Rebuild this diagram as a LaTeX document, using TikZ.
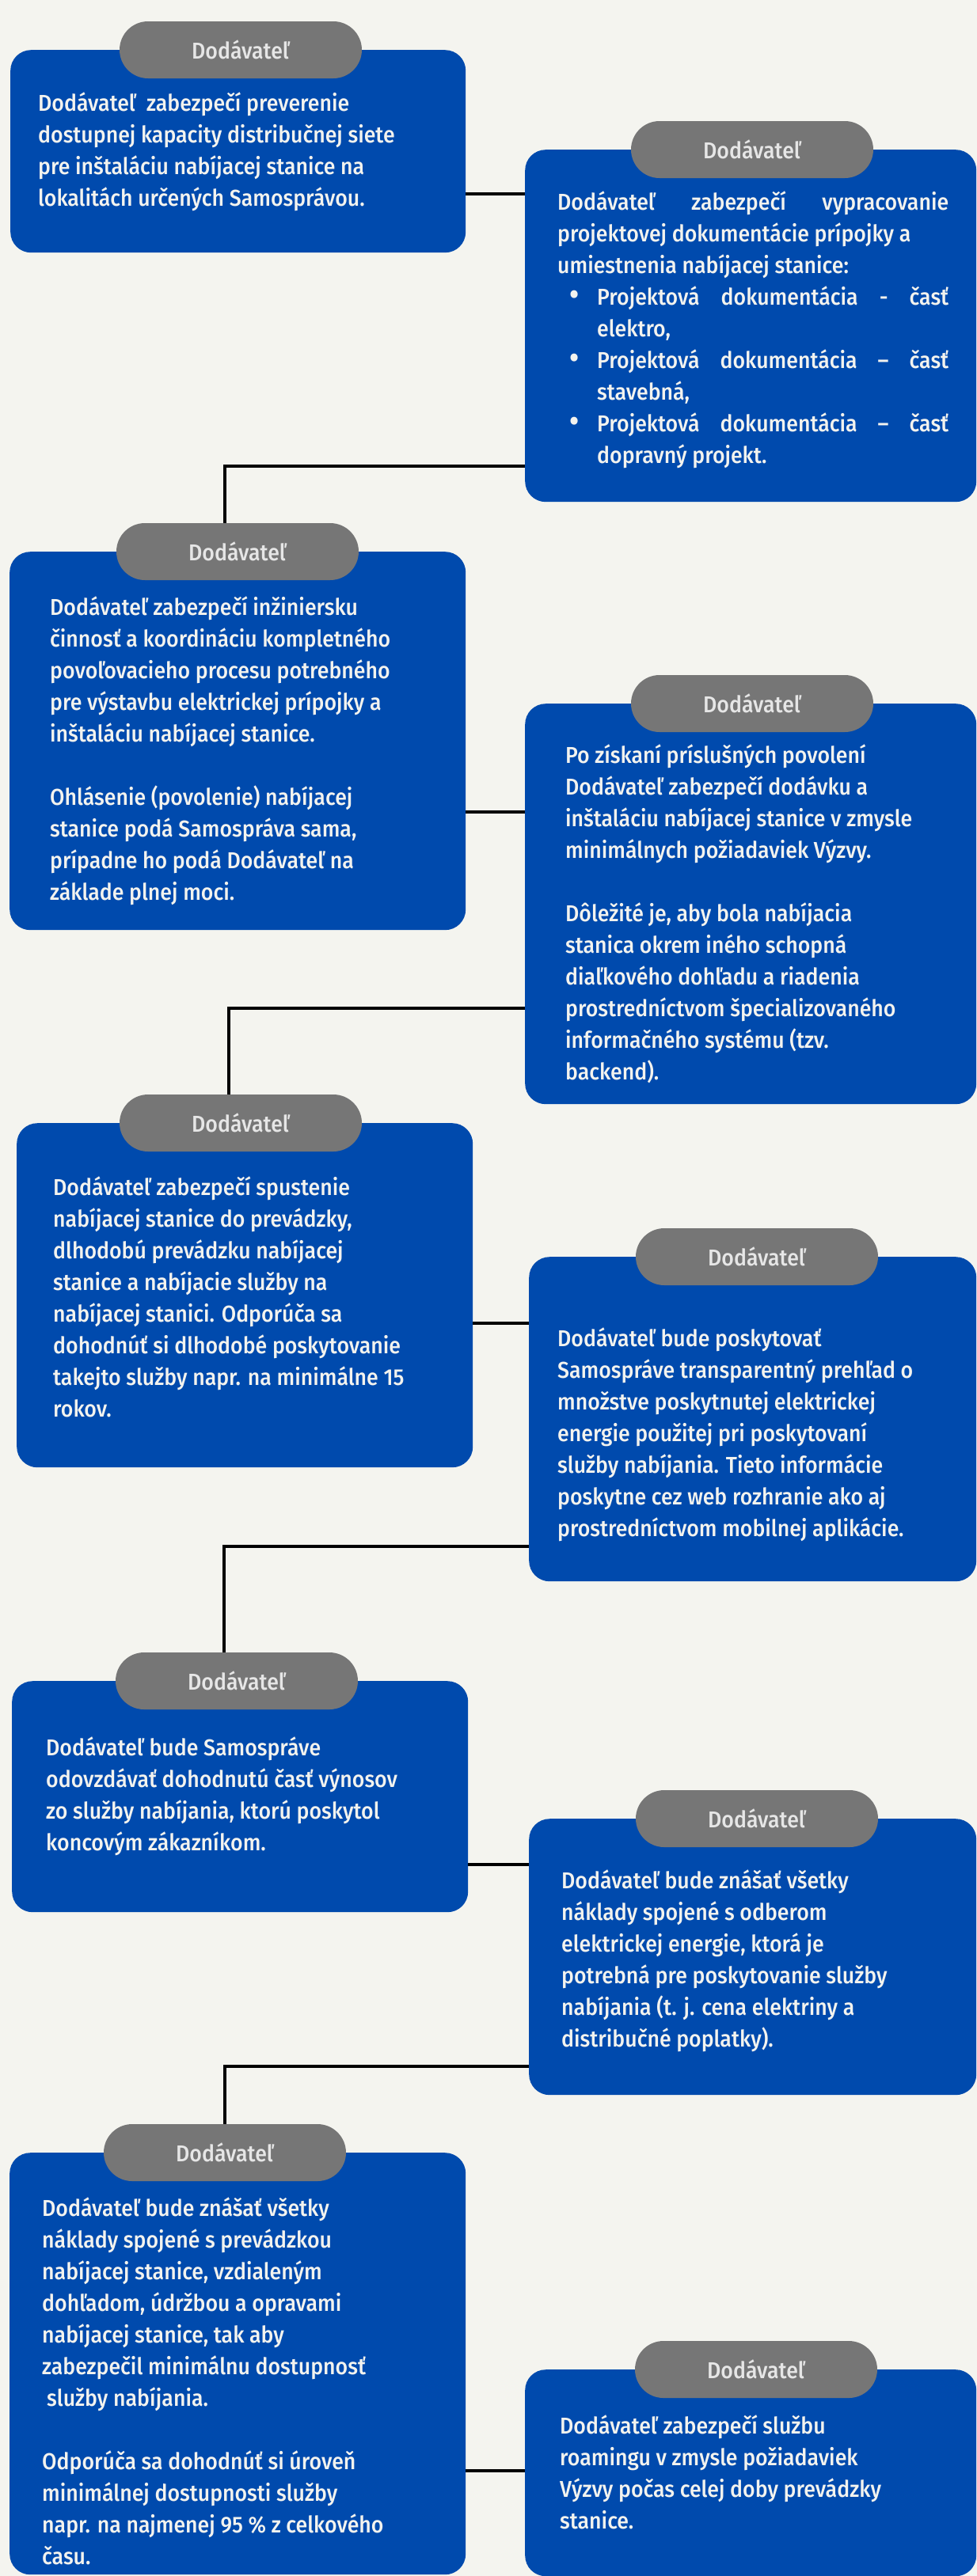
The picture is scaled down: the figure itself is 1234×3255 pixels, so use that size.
\documentclass[tikz,border=0pt]{standalone}
\usepackage{fontspec}
\setmainfont{Fira Sans}[UprightFont=* Medium, FakeStretch=0.92]
\usetikzlibrary{positioning}

\definecolor{paper}{HTML}{F4F4EF}
\definecolor{cardblue}{HTML}{004AAD}
\definecolor{taggray}{HTML}{767676}
\definecolor{tagtext}{HTML}{E6E6E6}
\definecolor{cardtext}{HTML}{F3F3EF}

\newcommand{\cardfont}{\fontsize{29}{40}\selectfont}
\newcommand{\spread}[2]{\makebox[#1][s]{#2}}
\newcommand{\bitem}[1]{\makebox[50pt][l]{\hspace*{15pt}\scalebox{1.35}{\textbullet}}\spread{444pt}{#1}}
\newcommand{\firstrow}{\rule{0pt}{30pt}}

\begin{document}
\begin{tikzpicture}[x=1pt,y=-1pt,
    card/.style={draw=none, fill=cardblue, rounded corners=26pt, inner sep=0pt, anchor=north west},
    tag/.style={fill=taggray, rounded corners=36pt, minimum width=306pt, minimum height=72pt,
      inner sep=0pt, text=tagtext, font=\cardfont},
    body/.style={text=cardtext, font=\cardfont, align=left, inner sep=0pt, anchor=north west,
      execute at begin node=\firstrow},
    link/.style={draw=black, line width=3.5pt}]

  \fill[paper] (0,0) rectangle (1234,3255);
  \useasboundingbox (0,0) rectangle (1234,3255);

  % Cards
  \node[card, minimum width=575pt, minimum height=256pt] (c1) at (13,63) {};
  \node[card, minimum width=570pt, minimum height=445pt] (c2) at (663,189) {};
  \node[card, minimum width=576pt, minimum height=478pt] (c3) at (12,697) {};
  \node[card, minimum width=570pt, minimum height=506pt] (c4) at (663,889) {};
  \node[card, minimum width=576pt, minimum height=435pt] (c5) at (21,1419) {};
  \node[card, minimum width=565pt, minimum height=410pt] (c6) at (668,1588) {};
  \node[card, minimum width=576pt, minimum height=292pt] (c7) at (15,2124) {};
  \node[card, minimum width=565pt, minimum height=349pt] (c8) at (668,2298) {};
  \node[card, minimum width=576pt, minimum height=533pt] (c9) at (12,2720) {};
  \node[card, minimum width=570pt, minimum height=261pt] (c10) at (663,2994) {};

  % Tags
  \node[tag] (t1) at (304,63) {Dodávateľ};
  \node[tag] (t2) at (950,189) {Dodávateľ};
  \node[tag] (t3) at (300,697) {Dodávateľ};
  \node[tag] (t4) at (950,889) {Dodávateľ};
  \node[tag] (t5) at (304,1419) {Dodávateľ};
  \node[tag] (t6) at (956,1588) {Dodávateľ};
  \node[tag] (t7) at (299,2124) {Dodávateľ};
  \node[tag] (t8) at (956,2298) {Dodávateľ};
  \node[tag] (t9) at (284,2720) {Dodávateľ};
  \node[tag] (t10) at (955,2994) {Dodávateľ};

  % Texts
  \node[body] (x1) at (48,117) {Dodávateľ\ \ zabezpečí preverenie\\
    dostupnej kapacity distribučnej siete\\
    pre inštaláciu nabíjacej stanice na\\
    lokalitách určených Samosprávou.};
  \node[body] (x2) at (704,242) {\spread{494pt}{Dodávateľ zabezpečí vypracovanie}\\
    projektovej dokumentácie prípojky a\\
    umiestnenia nabíjacej stanice:\\
    \bitem{Projektová dokumentácia - časť}\\
    \hspace*{50pt}elektro,\\
    \bitem{Projektová dokumentácia – časť}\\
    \hspace*{50pt}stavebná,\\
    \bitem{Projektová dokumentácia – časť}\\
    \hspace*{50pt}dopravný projekt.};
  \node[body] (x3) at (63,754) {Dodávateľ zabezpečí inžiniersku\\
    činnosť a koordináciu kompletného\\
    povoľovacieho procesu potrebného\\
    pre výstavbu elektrickej prípojky a\\
    inštaláciu nabíjacej stanice.\\[40pt]
    Ohlásenie (povolenie) nabíjacej\\
    stanice podá Samospráva sama,\\
    prípadne ho podá Dodávateľ na\\
    základe plnej moci.};
  \node[body] (x4) at (714,941) {Po získaní príslušných povolení\\
    Dodávateľ zabezpečí dodávku a\\
    inštaláciu nabíjacej stanice v zmysle\\
    minimálnych požiadaviek Výzvy.\\[40pt]
    Dôležité je, aby bola nabíjacia\\
    stanica okrem iného schopná\\
    diaľkového dohľadu a riadenia\\
    prostredníctvom špecializovaného\\
    informačného systému (tzv.\\
    backend).};
  \node[body] (x5) at (67,1486) {Dodávateľ zabezpečí spustenie\\
    nabíjacej stanice do prevádzky,\\
    dlhodobú prevádzku nabíjacej\\
    stanice a nabíjacie služby na\\
    nabíjacej stanici. Odporúča sa\\
    dohodnúť si dlhodobé poskytovanie\\
    takejto služby napr. na minimálne 15\\
    rokov.};
  \node[body] (x6) at (704,1677) {Dodávateľ bude poskytovať\\
    Samospráve transparentný prehľad o\\
    množstve poskytnutej elektrickej\\
    energie použitej pri poskytovaní\\
    služby nabíjania. Tieto informácie\\
    poskytne cez web rozhranie ako aj\\
    prostredníctvom mobilnej aplikácie.};
  \node[body] (x7) at (58,2194) {Dodávateľ bude Samospráve\\
    odovzdávať dohodnutú časť výnosov\\
    zo služby nabíjania, ktorú poskytol\\
    koncovým zákazníkom.};
  \node[body] (x8) at (709,2362) {Dodávateľ bude znášať všetky\\
    náklady spojené s odberom\\
    elektrickej energie, ktorá je\\
    potrebná pre poskytovanie služby\\
    nabíjania (t. j. cena elektriny a\\
    distribučné poplatky).};
  \node[body] (x9) at (53,2776) {Dodávateľ bude znášať všetky\\
    náklady spojené s prevádzkou\\
    nabíjacej stanice, vzdialeným\\
    dohľadom, údržbou a opravami\\
    nabíjacej stanice, tak aby\\
    zabezpečil minimálnu dostupnosť\\
    \hspace*{6pt}služby nabíjania.\\[40pt]
    Odporúča sa dohodnúť si úroveň\\
    minimálnej dostupnosti služby\\
    napr. na najmenej 95 \% z celkového\\
    času.};
  \node[body] (x10) at (707,3051) {Dodávateľ zabezpečí službu\\
    roamingu v zmysle požiadaviek\\
    Výzvy počas celej doby prevádzky\\
    stanice.};

  % Connector heights and bends
  \coordinate (k1) at (0,245);
  \coordinate (b2) at (284,589);
  \coordinate (k3) at (0,1026);
  \coordinate (b4) at (289,1274);
  \coordinate (k5) at (0,1672);
  \coordinate (b6) at (283,1954);
  \coordinate (k7) at (0,2356);
  \coordinate (b8) at (284,2611);
  \coordinate (k9) at (0,3122);

  % Lines across
  \draw[link] (c1.east |- k1) -- (c2.west |- k1);
  \draw[link] (c3.east |- k3) -- (c4.west |- k3);
  \draw[link] (c5.east |- k5) -- (c6.west |- k5);
  \draw[link] (c7.east |- k7) -- (c8.west |- k7);
  \draw[link] (c9.east |- k9) -- (c10.west |- k9);

  % Lines going down to the next tag
  \draw[link] (c2.west |- b2) -- (b2) -- (b2 |- t3.north);
  \draw[link] (c4.west |- b4) -- (b4) -- (b4 |- t5.north);
  \draw[link] (c6.west |- b6) -- (b6) -- (b6 |- t7.north);
  \draw[link] (c8.west |- b8) -- (b8) -- (b8 |- t9.north);

\end{tikzpicture}
\end{document}
